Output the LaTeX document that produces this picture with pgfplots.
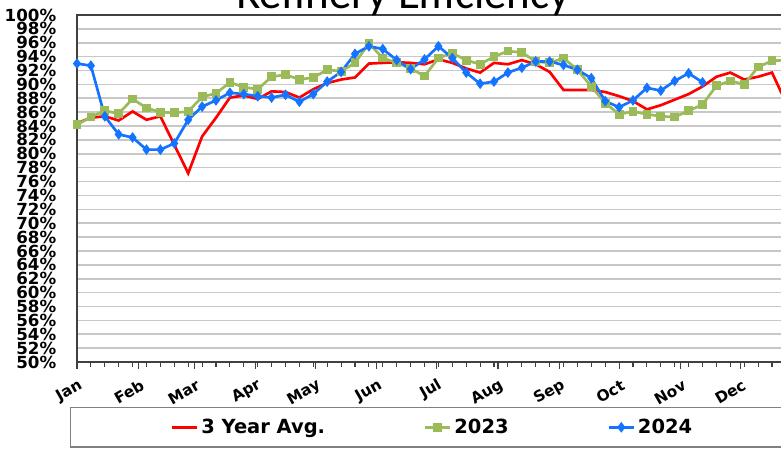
\documentclass[border=0pt]{standalone}
\usepackage{pgfplots}
\pgfplotsset{compat=1.18}
\usepackage{fontspec}
\setmainfont{DejaVu Sans}
\newfontfamily\titlefont{Carlito}
\definecolor{redline}{RGB}{255,0,0}
\definecolor{greenline}{RGB}{155,187,89}
\definecolor{blueline}{RGB}{20,115,255}
\definecolor{gridc}{RGB}{200,200,200}
\definecolor{framec}{RGB}{64,64,64}

\pgfplotstableread{
day val
0 84.4
7 85.2
14 85.4
21 84.8
28 86.1
35 84.9
42 85.4
49 81.3
56 77.2
63 82.5
70 85.2
77 88.1
84 88.4
91 87.9
98 89.0
105 88.9
112 88.1
119 89.3
126 90.2
133 90.7
140 91.0
147 93.0
154 93.1
161 93.2
168 93.1
175 92.9
182 93.6
189 93.1
196 92.3
203 91.7
210 93.1
217 92.9
224 93.5
231 92.9
238 91.8
245 89.2
252 89.2
259 89.2
266 88.9
273 88.3
280 87.6
287 86.4
294 87.0
301 87.8
308 88.6
315 89.7
322 91.1
329 91.7
336 90.7
343 91.1
350 91.7
357 87.4
}\avgtable

\pgfplotstableread{
day val
0 84.2
7 85.3
14 86.2
21 85.8
28 87.9
35 86.6
42 86.0
49 85.9
56 86.1
63 88.2
70 88.7
77 90.3
84 89.6
91 89.3
98 91.1
105 91.4
112 90.7
119 91.0
126 92.1
133 91.9
140 93.1
147 95.9
154 93.8
161 93.1
168 92.3
175 91.2
182 93.8
189 94.5
196 93.5
203 92.9
210 94.0
217 94.8
224 94.6
231 93.3
238 93.1
245 93.8
252 92.1
259 89.7
266 87.3
273 85.7
280 86.1
287 85.7
294 85.4
301 85.3
308 86.2
315 87.1
322 89.8
329 90.5
336 90.0
343 92.5
350 93.4
357 93.5
}\tablethree

\pgfplotstableread{
day val
0 93.0
7 92.7
14 85.4
21 82.8
28 82.35
35 80.6
42 80.6
49 81.5
56 84.9
63 86.8
70 87.7
77 88.8
84 88.6
91 88.3
98 88.1
105 88.5
112 87.5
119 88.6
126 90.4
133 91.8
140 94.4
147 95.5
154 95.1
161 93.5
168 92.2
175 93.6
182 95.5
189 93.8
196 91.7
203 90.1
210 90.4
217 91.7
224 92.4
231 93.3
238 93.3
245 92.8
252 92.1
259 90.9
266 87.6
273 86.7
280 87.7
287 89.5
294 89.1
301 90.5
308 91.6
315 90.3
}\tablefour

\begin{document}
\begin{tikzpicture}
\useasboundingbox (0pt,0pt) rectangle (585.75pt,336.75pt);
\clip (0pt,0pt) rectangle (585.75pt,336.75pt);
\begin{axis}[
  at={(57.75pt,65.25pt)}, anchor=south west,
  scale only axis, width=543.6pt, height=260.25pt,
  xmin=0, xmax=365, ymin=50, ymax=100,
  axis line style={draw=framec, line width=1.5pt},
  ytick={50,52,...,100},
  yticklabel={\pgfmathprintnumber{\tick}\%},
  /pgf/number format/assume math mode=true,
  ymajorgrids, major grid style={draw=gridc, line width=1.2pt},
  ytick style={draw=none},
  xtick={0,31,59,90,120,151,181,212,243,273,304,334},
  xticklabels={Jan,Feb,Mar,Apr,May,Jun,Jul,Aug,Sep,Oct,Nov,Dec},
  minor xtick={0,7,...,364},
  xtick style={draw=framec, line width=0.8pt},
  major tick length=5pt, minor tick length=3.5pt,
  tick align=outside, xtick pos=bottom, ytick pos=left,
  yticklabel style={font=\bfseries\fontsize{12.5}{13}\selectfont, inner sep=0pt, xshift=-10.4pt},
  xticklabel style={xshift=4pt, yshift=-11pt, font=\bfseries\fontsize{11.5}{13}\selectfont, rotate=30, anchor=east, inner sep=1pt},
  legend style={at={(-0.0097,-0.1297)}, anchor=north west, legend columns=3,
    draw=gray, line width=1.1pt, font=\bfseries\fontsize{14.6}{17}\selectfont,
    inner xsep=75pt, inner ysep=6.5pt,
    /tikz/every even column/.append style={column sep=72pt}},
  legend image code/.code={
    \draw[mark repeat=2,mark phase=2,#1] plot coordinates {(0pt,0pt) (9.5pt,0pt) (19pt,0pt)};
  },
]
\addplot[redline, line width=2pt, no markers] table[x=day,y=val] {\avgtable};
\addlegendentry{3 Year Avg.}
\addplot[greenline, line width=2pt, mark=square*, mark size=2.3pt, mark options={solid, fill=greenline}] table[x=day,y=val] {\tablethree};
\addlegendentry{2023}
\addplot[blueline, line width=2pt, mark=diamond*, mark size=2.4pt, mark options={solid, fill=blueline}] table[x=day,y=val] {\tablefour};
\addlegendentry{2024}
\end{axis}
\node[font=\titlefont\fontsize{33.75}{40}\selectfont, anchor=base] at (302.25pt,330pt) {Refinery Efficiency};
\end{tikzpicture}
\end{document}
